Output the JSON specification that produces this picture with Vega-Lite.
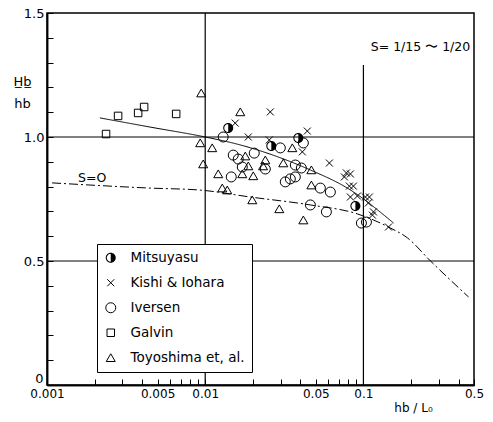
{
  "$schema": "https://vega.github.io/schema/vega-lite/v6.json",
  "autosize": {"type": "none"},
  "width": 427,
  "height": 372,
  "padding": {"left": 47, "top": 13, "right": 19, "bottom": 37},
  "background": "white",
  "config": {
    "view": {"stroke": "black", "strokeWidth": 1.5},
    "font": "DejaVu Sans",
    "axis": {"domainColor": "black", "domainWidth": 1.5, "tickColor": "black", "tickWidth": 1, "labelColor": "black", "titleColor": "black", "grid": false, "labelOverlap": false}
  },
  "resolve": {"axis": {"x": "independent", "y": "independent"}},
  "datasets": {
    "pts": [
      {"series": "Mitsuyasu", "x": 0.01398, "y": 1.036},
      {"series": "Mitsuyasu", "x": 0.02617, "y": 0.964},
      {"series": "Mitsuyasu", "x": 0.03879, "y": 0.996},
      {"series": "Mitsuyasu", "x": 0.089, "y": 0.722},
      {"series": "Kishi & Iohara", "x": 0.01548, "y": 1.056},
      {"series": "Kishi & Iohara", "x": 0.02579, "y": 1.101},
      {"series": "Kishi & Iohara", "x": 0.01872, "y": 1.0},
      {"series": "Kishi & Iohara", "x": 0.0442, "y": 1.024},
      {"series": "Kishi & Iohara", "x": 0.04111, "y": 0.94},
      {"series": "Kishi & Iohara", "x": 0.02541, "y": 0.988},
      {"series": "Kishi & Iohara", "x": 0.06094, "y": 0.895},
      {"series": "Kishi & Iohara", "x": 0.07806, "y": 0.855},
      {"series": "Kishi & Iohara", "x": 0.08276, "y": 0.851},
      {"series": "Kishi & Iohara", "x": 0.0758, "y": 0.839},
      {"series": "Kishi & Iohara", "x": 0.08153, "y": 0.802},
      {"series": "Kishi & Iohara", "x": 0.08645, "y": 0.802},
      {"series": "Kishi & Iohara", "x": 0.08276, "y": 0.758},
      {"series": "Kishi & Iohara", "x": 0.09162, "y": 0.762},
      {"series": "Kishi & Iohara", "x": 0.103, "y": 0.758},
      {"series": "Kishi & Iohara", "x": 0.1091, "y": 0.758},
      {"series": "Kishi & Iohara", "x": 0.1075, "y": 0.734},
      {"series": "Kishi & Iohara", "x": 0.1157, "y": 0.698},
      {"series": "Kishi & Iohara", "x": 0.114, "y": 0.685},
      {"series": "Kishi & Iohara", "x": 0.144, "y": 0.637},
      {"series": "Iversen", "x": 0.01299, "y": 1.0},
      {"series": "Iversen", "x": 0.04172, "y": 0.976},
      {"series": "Iversen", "x": 0.02984, "y": 0.956},
      {"series": "Iversen", "x": 0.01504, "y": 0.927},
      {"series": "Iversen", "x": 0.02042, "y": 0.935},
      {"series": "Iversen", "x": 0.01618, "y": 0.911},
      {"series": "Iversen", "x": 0.01715, "y": 0.879},
      {"series": "Iversen", "x": 0.02398, "y": 0.871},
      {"series": "Iversen", "x": 0.01461, "y": 0.839},
      {"series": "Iversen", "x": 0.03712, "y": 0.887},
      {"series": "Iversen", "x": 0.04052, "y": 0.875},
      {"series": "Iversen", "x": 0.03712, "y": 0.839},
      {"series": "Iversen", "x": 0.03451, "y": 0.831},
      {"series": "Iversen", "x": 0.03208, "y": 0.819},
      {"series": "Iversen", "x": 0.05344, "y": 0.794},
      {"series": "Iversen", "x": 0.06181, "y": 0.778},
      {"series": "Iversen", "x": 0.0462, "y": 0.726},
      {"series": "Iversen", "x": 0.05833, "y": 0.698},
      {"series": "Iversen", "x": 0.0971, "y": 0.653},
      {"series": "Iversen", "x": 0.1045, "y": 0.657},
      {"series": "Galvin", "x": 0.002362, "y": 1.012},
      {"series": "Galvin", "x": 0.002814, "y": 1.085},
      {"series": "Galvin", "x": 0.003767, "y": 1.097},
      {"series": "Galvin", "x": 0.004111, "y": 1.121},
      {"series": "Galvin", "x": 0.006553, "y": 1.093},
      {"series": "Toyoshima et, al.", "x": 0.009434, "y": 1.177},
      {"series": "Toyoshima et, al.", "x": 0.01666, "y": 1.101},
      {"series": "Toyoshima et, al.", "x": 0.009298, "y": 0.976},
      {"series": "Toyoshima et, al.", "x": 0.01107, "y": 0.956},
      {"series": "Toyoshima et, al.", "x": 0.009712, "y": 0.891},
      {"series": "Toyoshima et, al.", "x": 0.01209, "y": 0.851},
      {"series": "Toyoshima et, al.", "x": 0.01282, "y": 0.794},
      {"series": "Toyoshima et, al.", "x": 0.01378, "y": 0.786},
      {"series": "Toyoshima et, al.", "x": 0.01792, "y": 0.923},
      {"series": "Toyoshima et, al.", "x": 0.01872, "y": 0.883},
      {"series": "Toyoshima et, al.", "x": 0.01715, "y": 0.851},
      {"series": "Toyoshima et, al.", "x": 0.02013, "y": 0.843},
      {"series": "Toyoshima et, al.", "x": 0.02398, "y": 0.907},
      {"series": "Toyoshima et, al.", "x": 0.0232, "y": 0.883},
      {"series": "Toyoshima et, al.", "x": 0.03115, "y": 0.895},
      {"series": "Toyoshima et, al.", "x": 0.03553, "y": 0.956},
      {"series": "Toyoshima et, al.", "x": 0.04688, "y": 0.867},
      {"series": "Toyoshima et, al.", "x": 0.04688, "y": 0.806},
      {"series": "Toyoshima et, al.", "x": 0.01984, "y": 0.746},
      {"series": "Toyoshima et, al.", "x": 0.0294, "y": 0.71},
      {"series": "Toyoshima et, al.", "x": 0.04172, "y": 0.665}
    ],
    "curves": [
      {"curve": "S=1/15~1/20", "x": 0.00216, "y": 1.077},
      {"curve": "S=1/15~1/20", "x": 0.004487, "y": 1.04},
      {"curve": "S=1/15~1/20", "x": 0.01, "y": 1.0},
      {"curve": "S=1/15~1/20", "x": 0.01666, "y": 0.968},
      {"curve": "S=1/15~1/20", "x": 0.0462, "y": 0.867},
      {"curve": "S=1/15~1/20", "x": 0.0792, "y": 0.794},
      {"curve": "S=1/15~1/20", "x": 0.155, "y": 0.653},
      {"curve": "S=0", "x": 0.001076, "y": 0.815},
      {"curve": "S=0", "x": 0.004487, "y": 0.794},
      {"curve": "S=0", "x": 0.009281, "y": 0.786},
      {"curve": "S=0", "x": 0.01927, "y": 0.758},
      {"curve": "S=0", "x": 0.0462, "y": 0.726},
      {"curve": "S=0", "x": 0.0915, "y": 0.69},
      {"curve": "S=0", "x": 0.144, "y": 0.637},
      {"curve": "S=0", "x": 0.1899, "y": 0.593},
      {"curve": "S=0", "x": 0.2655, "y": 0.5},
      {"curve": "S=0", "x": 0.4619, "y": 0.355}
    ],
    "vgrid": [
      {"gx": 0.01, "gy": 0, "gy2": 1.5},
      {"gx": 0.1, "gy": 0, "gy2": 1.29}
    ],
    "hgrid": [
      {"hy": 0.5},
      {"hy": 1.0}
    ],
    "notes": [
      {"label": "S= 1/15 〜 1/20", "x": 0.2295, "y": 1.363},
      {"label": "S=O", "x": 0.00193, "y": 0.835}
    ]
  },
  "layer": [
    {
      "data": {"name": "vgrid"},
      "mark": {"type": "rule", "color": "black", "strokeWidth": 1.2},
      "encoding": {
        "x": {"field": "gx", "type": "quantitative", "scale": {"type": "log", "domain": [0.001, 0.5], "nice": false},
          "axis": {
            "orient": "bottom",
            "values": [0.001, 0.005, 0.01, 0.05, 0.1, 0.5],
            "labelExpr": "'' + datum.value",
            "ticks": false, "labelPadding": 3, "labelFontSize": 12, "labelOverlap": false, "labelFlush": false, "labelBound": false,
            "title": "hb / L₀", "titleFontSize": 12, "titleFontWeight": "normal", "titleX": 366, "titleY": 22, "titleAlign": "center", "titleBaseline": "middle"
          }
        },
        "y": {"field": "gy", "type": "quantitative", "scale": {"domain": [0, 1.5], "nice": false},
          "axis": {
            "orient": "left",
            "values": [0.5, 1, 1.5],
            "format": ".1f",
            "ticks": false, "labelPadding": 3, "labelFontSize": 13, "labelOverlap": false, "labelFlush": false, "labelBound": false,
            "title": ["H̲b̲", "hb"], "titleAngle": 0, "titleFontSize": 13, "titleFontWeight": "normal", "titleLineHeight": 22,
            "titleX": -25, "titleY": 62, "titleAlign": "center", "titleBaseline": "top"
          }
        },
        "y2": {"field": "gy2"}
      }
    },
    {
      "data": {"name": "hgrid"},
      "mark": {"type": "rule", "color": "black", "strokeWidth": 1},
      "encoding": {
        "y": {"field": "hy", "type": "quantitative",
          "axis": {
            "orient": "left", "values": [0], "format": "d", "ticks": false, "domain": false,
            "labelPadding": 4, "labelFontSize": 13, "labelBaseline": "bottom", "labelFlush": false, "labelBound": false, "title": null
          }
        }
      }
    },
    {
      "data": {"name": "curves"},
      "mark": {"type": "line", "color": "black", "strokeWidth": 1, "interpolate": "monotone"},
      "encoding": {
        "x": {"field": "x", "type": "quantitative",
          "axis": {
            "orient": "bottom",
            "values": [0.001, 0.002, 0.003, 0.004, 0.005, 0.006, 0.007, 0.008, 0.009, 0.01, 0.02, 0.03, 0.04, 0.05, 0.06, 0.07, 0.08, 0.09, 0.1, 0.2, 0.3, 0.4, 0.5],
            "labels": false, "tickSize": -6, "title": null
          }
        },
        "y": {"field": "y", "type": "quantitative",
          "axis": {
            "orient": "left",
            "values": [0, 0.1, 0.2, 0.3, 0.4, 0.5, 0.6, 0.7, 0.8, 0.9, 1, 1.1, 1.2, 1.3, 1.4, 1.5],
            "labels": false, "tickSize": -6, "title": null
          }
        },
        "detail": {"field": "curve"},
        "strokeDash": {"field": "curve", "type": "nominal", "scale": {"domain": ["S=1/15~1/20", "S=0"], "range": [[1, 0], [9, 3, 2, 3]]}, "legend": null}
      }
    },
    {
      "data": {"name": "pts"},
      "mark": {"type": "point", "size": 100, "strokeWidth": 1, "opacity": 1},
      "encoding": {
        "x": {"field": "x", "type": "quantitative", "axis": null},
        "y": {"field": "y", "type": "quantitative", "axis": null},
        "shape": {"field": "series", "type": "nominal",
          "scale": {"domain": ["Mitsuyasu", "Kishi & Iohara", "Iversen", "Galvin", "Toyoshima et, al."],
            "range": [
              "M0,-1A1,1 0 0,1 0,1A1,1 0 0,1 0,-1ZM0,-0.8A0.8,0.8 0 0,0 0,0.8A0.8,0.8 0 0,0 0,-0.8ZM0,-1A1,1 0 0,1 0,1Z",
              "M-0.7,-0.7L0.7,0.7M-0.7,0.7L0.7,-0.7",
              "circle",
              "M-0.75,-0.75L0.75,-0.75L0.75,0.75L-0.75,0.75Z",
              "M0,-0.8L0.9,0.75L-0.9,0.75Z"
            ]},
          "legend": {
            "title": null, "orient": "none", "legendX": 50, "legendY": 231,
            "fillColor": "white", "strokeColor": "black", "padding": 7,
            "labelFontSize": 13.5, "labelOffset": 13, "rowPadding": 10, "symbolSize": 100, "symbolStrokeWidth": 1,
            "labelColor": "black", "labelLimit": 300
          }
        },
        "fill": {"field": "series", "type": "nominal",
          "scale": {"domain": ["Mitsuyasu", "Kishi & Iohara", "Iversen", "Galvin", "Toyoshima et, al."],
            "range": ["black", "transparent", "transparent", "transparent", "transparent"]}},
        "stroke": {"field": "series", "type": "nominal",
          "scale": {"domain": ["Mitsuyasu", "Kishi & Iohara", "Iversen", "Galvin", "Toyoshima et, al."],
            "range": ["transparent", "black", "black", "black", "black"]}}
      }
    },
    {
      "data": {"name": "notes"},
      "mark": {"type": "text", "fontSize": 12.5, "color": "black", "align": "center", "baseline": "middle"},
      "encoding": {
        "x": {"field": "x", "type": "quantitative", "axis": null},
        "y": {"field": "y", "type": "quantitative", "axis": null},
        "text": {"field": "label"}
      }
    }
  ]
}
